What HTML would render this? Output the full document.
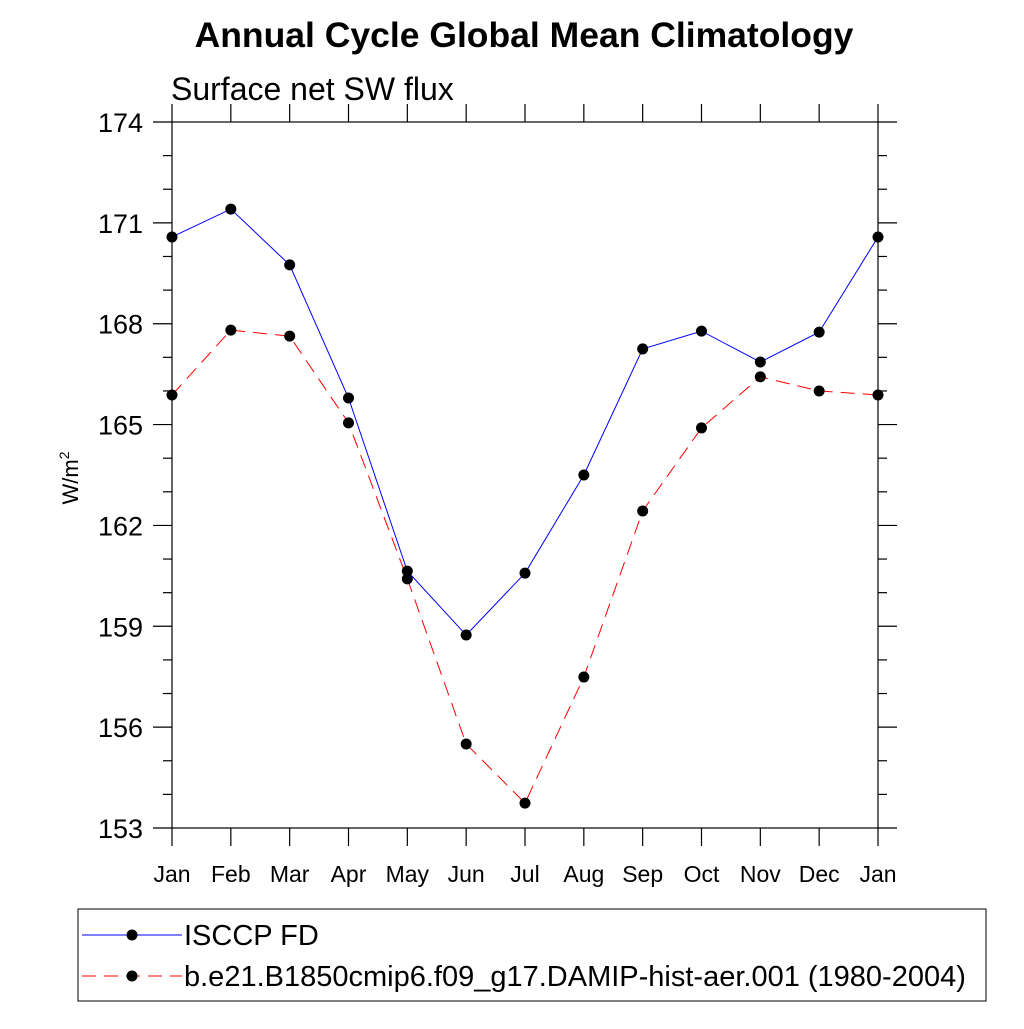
<!DOCTYPE html>
<html><head><meta charset="utf-8"><style>
body{margin:0;background:#fff}
svg text{font-family:"Liberation Sans",sans-serif}
</style></head><body>
<svg id="c" width="1024" height="1024" xmlns="http://www.w3.org/2000/svg">
<text x="524" y="47" text-anchor="middle" font-size="35.5" font-weight="bold">Annual Cycle Global Mean Climatology</text>
<text x="171" y="100" font-size="32">Surface net SW flux</text>
<text transform="translate(78,478) rotate(-90)" text-anchor="middle" font-size="22">W/m<tspan dy="-9" font-size="14">2</tspan></text>
<g id="ax"></g><g id="series"></g>
<rect x="78" y="909" width="908" height="92" fill="none" stroke="#000" stroke-width="1"/>
<g>
<line x1="82" y1="935" x2="182" y2="935" stroke="#00f" stroke-width="1"/>
<circle cx="132" cy="935" r="5.5" fill="#000"/>
<text x="184" y="945" font-size="29">ISCCP FD</text></g>
<g>
<line x1="82" y1="976" x2="182" y2="976" stroke="#f00" stroke-width="1" stroke-dasharray="14,8"/>
<circle cx="132" cy="976" r="5.5" fill="#000"/>
<text x="184" y="986" font-size="29">b.e21.B1850cmip6.f09_g17.DAMIP-hist-aer.001 (1980-2004)</text></g>
</svg>
<script>
const months=["Jan","Feb","Mar","Apr","May","Jun","Jul","Aug","Sep","Oct","Nov","Dec","Jan"];
const yTicks=[153,156,159,162,165,168,171,174];
const isccp=[170.58,171.41,169.75,165.79,160.64,158.74,160.58,163.5,167.25,167.78,166.86,167.75,170.58];
const model=[165.88,167.81,167.63,165.05,160.41,155.5,153.74,157.49,162.43,164.9,166.42,166.0,165.88];
const NS="http://www.w3.org/2000/svg";
const L=172,R=878,T=122,B=828,ymin=153,ymax=174;
const xs=i=>L+(R-L)*i/(months.length-1);
const ys=v=>B-(B-T)*(v-ymin)/(ymax-ymin);
function mk(tag,at,p){const e=document.createElementNS(NS,tag);for(const k in at)e.setAttribute(k,at[k]);p.appendChild(e);return e;}
const ax=document.getElementById('ax');
const fr=mk('rect',{x:L,y:T,width:R-L,height:B-T,fill:'none',stroke:'#000','stroke-width':1.2},ax);


for(let v=ymin;v<=ymax;v++){const maj=yTicks.includes(v);const y=ys(v);const len=maj?19:9;
mk('line',{x1:L-len,y1:y,x2:L,y2:y,stroke:'#000','stroke-width':1.2},ax);
mk('line',{x1:R,y1:y,x2:R+len,y2:y,stroke:'#000','stroke-width':1.2},ax);}
yTicks.forEach(v=>{const t=mk('text',{x:143,y:ys(v)+10,'text-anchor':'end','font-size':27},ax);t.textContent=v;

});
months.forEach((m,i)=>{const x=xs(i);
mk('line',{x1:x,y1:B,x2:x,y2:B+18,stroke:'#000','stroke-width':1.2},ax);
mk('line',{x1:x,y1:T-18,x2:x,y2:T,stroke:'#000','stroke-width':1.2},ax);
const t=mk('text',{x:x,y:882,'text-anchor':'middle','font-size':23},ax);t.textContent=m;

});
const sg=document.getElementById('series');
function series(vals,col,dash,name){
const g=mk('g',{},sg);


const a={points:vals.map((v,i)=>xs(i)+','+ys(v)).join(' '),fill:'none',stroke:col,'stroke-width':1};
if(dash)a['stroke-dasharray']=dash;
mk('polyline',a,g);
vals.forEach((v,i)=>{const c=mk('circle',{cx:xs(i),cy:ys(v),r:5.5,fill:'#000'},g);

});}
series(model,'#f00','14,8','series-model');
series(isccp,'#00f',null,'series-isccp');
</script>
</body></html>
